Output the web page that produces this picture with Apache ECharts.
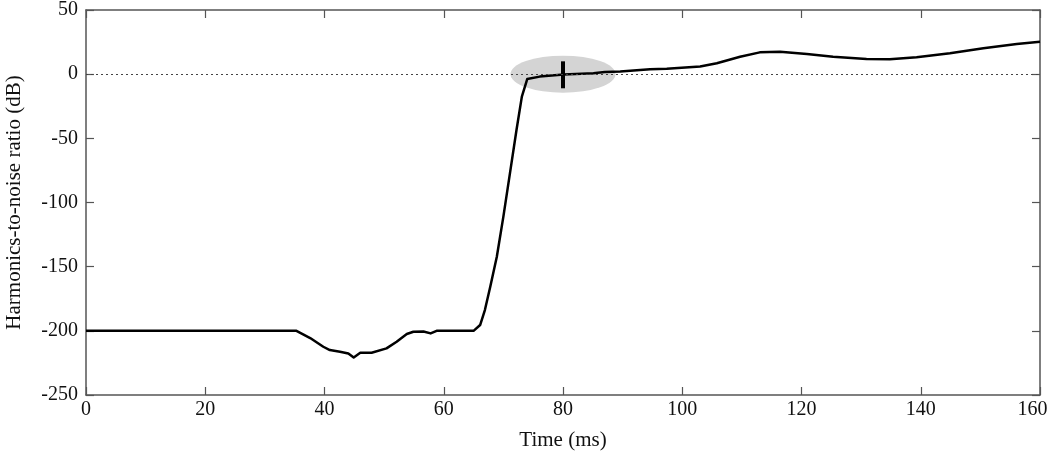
<!DOCTYPE html>
<html>
<head>
<meta charset="utf-8">
<script src="https://cdn.jsdelivr.net/npm/echarts@6/dist/echarts.min.js"></script>
<style>
  html, body { margin: 0; padding: 0; background: #fff; }
  #chart { width: 1050px; height: 459px; }
</style>
</head>
<body>
<div id="chart"></div>
<script>
// time axis (ms) and harmonics-to-noise ratio (dB)
var timeMs = [0, 35.3, 37.6, 39.8, 40.9, 42.6, 44.0, 44.9, 46.0, 47.9, 50.4, 52.1, 53.8, 54.9, 56.6, 57.8, 58.8,
  65.0, 66.1, 66.9, 67.8, 68.9, 70.0, 71.1, 72.2, 73.1, 74.0, 76.1, 80.1, 85.1, 87.0, 89.6, 94.6, 97.4,
  103.0, 105.8, 109.7, 113.0, 116.4, 120.9, 125.3, 130.9, 134.8, 139.3, 144.9, 150.5, 156.1, 160];
var hnrDb = [-200, -200, -205.6, -212.4, -215, -216.3, -217.6, -220.7, -217.1, -217.1, -213.7, -208.5, -202.5, -200.7, -200.5, -202, -200,
  -200, -195.5, -183.8, -165.6, -142.3, -111, -77.3, -43.5, -17.5, -3.8, -1.9, -0.3, 0.7, 1.7, 2, 3.8, 4.2,
  5.9, 8.5, 13.6, 17, 17.5, 15.7, 13.6, 11.8, 11.6, 13.2, 16.3, 20.2, 23.5, 25.3];

// highlighted onset point and the marker bar through it
var onsetPoint = [80, 0];
var markerBar = [[80, 10], [80, -11]];

var xRange = [0, 160], xStep = 20;
var yRange = [-250, 50], yStep = 50;

var myChart = echarts.init(document.getElementById("chart"));
var font = "Liberation Serif";
var frameColor = "#555";

function frameAxis(extra) {
  return Object.assign({
    type: "value",
    axisLine: { show: true, onZero: false, lineStyle: { color: frameColor, width: 1.5 } },
    axisTick: { show: true, inside: true, length: 8, lineStyle: { color: frameColor, width: 1.2 } },
    splitLine: { show: false },
    axisLabel: { show: false }
  }, extra);
}

var curve = timeMs.map(function (t, i) { return [t, hnrDb[i]]; });

myChart.setOption({
  animation: false,
  grid: { left: 86, top: 10, right: 10, bottom: 64, outerBoundsMode: "none", containLabel: false },
  xAxis: [
    frameAxis({
      min: xRange[0], max: xRange[1], interval: xStep, position: "bottom",
      name: "Time (ms)", nameLocation: "middle", nameGap: 35,
      nameTextStyle: { fontFamily: font, fontSize: 21, color: "#111" },
      axisLabel: {
        show: true, fontFamily: font, fontSize: 20, color: "#111", margin: 5,
        // last label is pulled in a little so it stays on the page
        formatter: function (v) { return v === xRange[1] ? "{last|" + v + "}" : String(v); },
        rich: { last: { fontFamily: font, fontSize: 20, color: "#111", padding: [0, 15, 0, 0] } }
      }
    }),
    frameAxis({ min: xRange[0], max: xRange[1], interval: xStep, position: "top" })
  ],
  yAxis: [
    frameAxis({
      min: yRange[0], max: yRange[1], interval: yStep, position: "left",
      name: "Harmonics-to-noise ratio (dB)", nameLocation: "middle", nameGap: 61,
      nameTextStyle: { fontFamily: font, fontSize: 21, color: "#111" },
      axisLabel: { show: true, fontFamily: font, fontSize: 20, color: "#111", margin: 8 }
    }),
    frameAxis({ min: yRange[0], max: yRange[1], interval: yStep, position: "right" })
  ],
  series: [
    {
      // grey ellipse around the onset
      type: "scatter",
      data: [onsetPoint],
      symbol: "circle",
      symbolSize: [105, 37],
      itemStyle: { color: "#d4d4d4", opacity: 1 },
      z: 1,
      silent: true,
      markLine: {
        silent: true,
        symbol: "none",
        label: { show: false },
        lineStyle: { color: "#444", type: [2, 3], width: 1 },
        data: [{ yAxis: 0 }]
      }
    },
    {
      name: "HNR",
      type: "line",
      data: curve,
      showSymbol: false,
      lineStyle: { color: "#000", width: 2.5, join: "round" },
      z: 3
    },
    {
      type: "line",
      data: markerBar,
      showSymbol: false,
      lineStyle: { color: "#000", width: 4 },
      z: 4
    }
  ]
});
</script>
</body>
</html>
